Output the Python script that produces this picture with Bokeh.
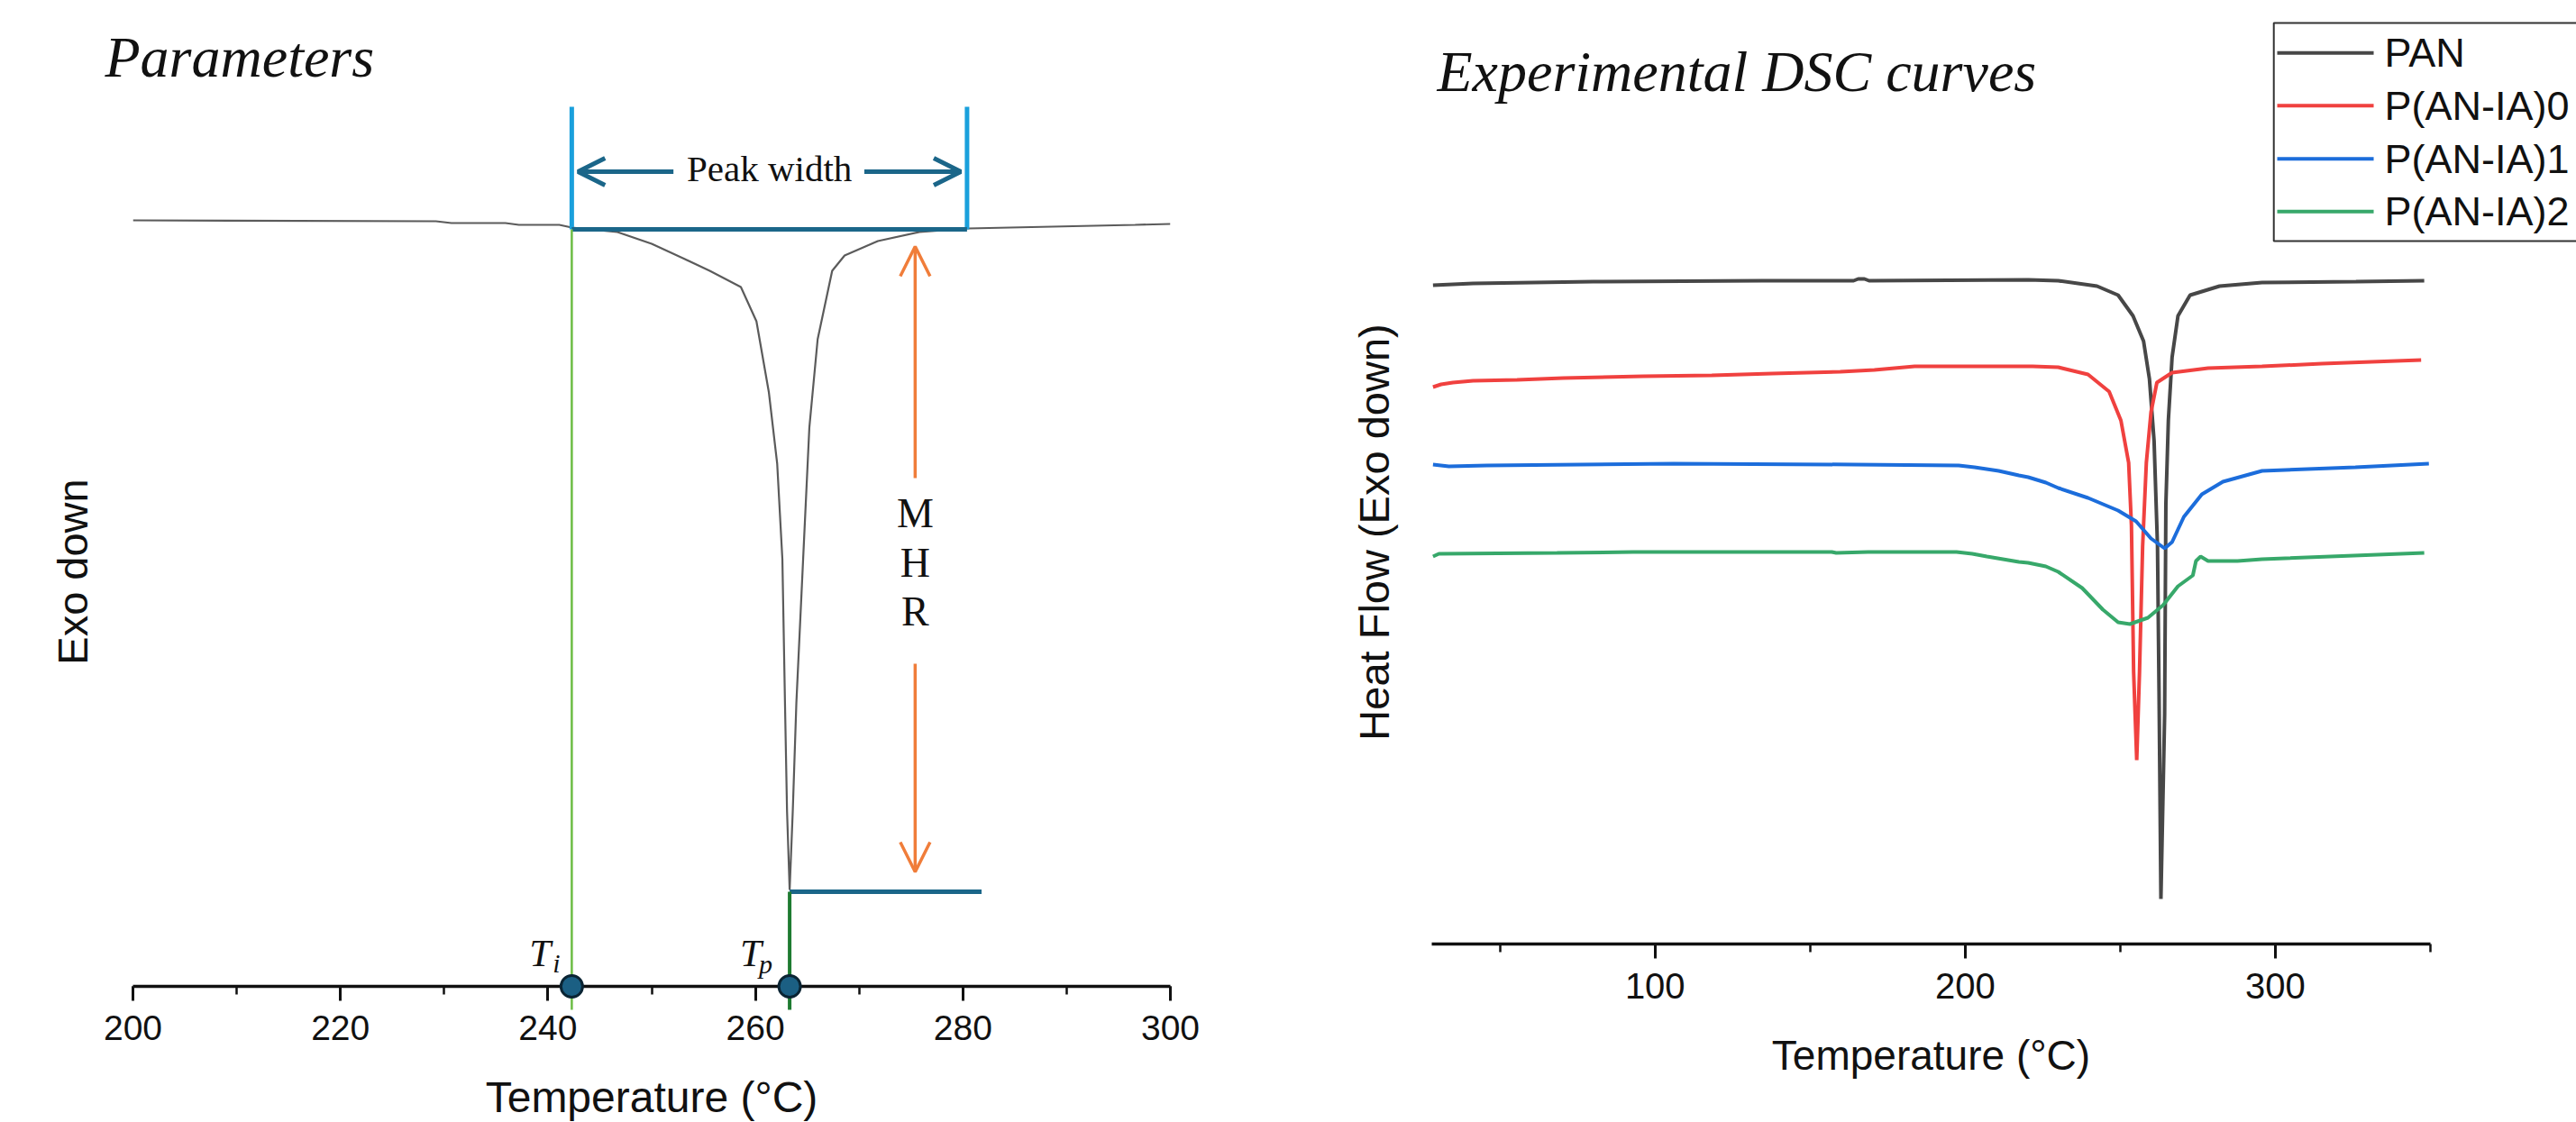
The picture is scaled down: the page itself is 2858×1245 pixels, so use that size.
import math
from bokeh.plotting import figure
from bokeh.layouts import row
from bokeh.models import Range1d, SingleIntervalTicker, Label, Arrow, OpenHead
from bokeh.core.properties import value
from bokeh.embed import file_html
from bokeh.resources import INLINE

SANS = "Liberation Sans"
SERIF = "Liberation Serif"
INK = "#111111"

# ---------------- data: schematic DSC peak (left panel) ----------------
schem_T = [200.0, 229.2, 230.7, 235.9, 237.2, 241.1, 242.3, 246.7, 250.0, 253.2,
           255.6, 258.6, 260.1, 261.3, 262.1, 262.6, 262.85, 263.05, 263.3, 263.6,
           263.95, 264.6, 265.2, 266.0, 267.4, 268.6, 271.8, 275.8, 280.5, 288.6,
           296.6, 300.0]
schem_hf = [8.50, 8.49, 8.47, 8.47, 8.45, 8.45, 8.42, 8.37, 8.24, 8.07,
            7.94, 7.76, 7.38, 6.59, 5.80, 4.74, 3.15, 1.94, 1.07, 1.94,
            3.15, 4.74, 6.20, 7.18, 7.94, 8.11, 8.27, 8.37, 8.41, 8.43,
            8.45, 8.46]

T_i = 242.3          # initiation temperature
T_p = 263.3          # peak temperature
T_end = 280.4        # end of peak width
hf_base = 8.40       # baseline level used for the peak width
hf_peak = 1.05       # level of the peak minimum (MHR reference)
hf_bracket_top = 9.76
hf_width_arrow = 9.04
T_mhr = 275.4
hf_mhr_up = (5.64, 8.21)
hf_mhr_down = (3.58, 1.27)
T_mhr_line_end = 281.8

# ---------------- data: experimental DSC curves (right panel) ----------------
pan_T = [28.4, 41.3, 80.1, 134.5, 164.0, 165.5, 167.5, 169.0, 220.3, 230.0,
         242.5, 249.3, 254.1, 257.5, 259.4, 260.9, 262.0, 262.5, 263.1, 264.3,
         264.7, 265.5, 266.7, 268.6, 272.5, 282.0, 295.7, 326.0, 348.0]
pan_hf = [7.31, 7.33, 7.35, 7.36, 7.36, 7.38, 7.38, 7.36, 7.37, 7.36,
          7.30, 7.20, 6.97, 6.69, 6.27, 5.58, 4.41, 2.78, 0.50, 2.55,
          4.88, 5.81, 6.51, 6.97, 7.20, 7.30, 7.34, 7.35, 7.36]

ia0_T = [28.4, 31.0, 34.8, 41.3, 55.5, 70.4, 96.2, 118.3, 137.7, 159.7,
         170.7, 177.2, 183.7, 221.7, 230.0, 239.6, 246.4, 250.2, 252.7, 253.6,
         254.3, 255.3, 256.2, 257.2, 258.4, 259.9, 261.8, 266.7, 278.3, 295.7,
         315.0, 347.0]
ia0_hf = [6.18, 6.21, 6.23, 6.25, 6.26, 6.28, 6.30, 6.31, 6.33, 6.35,
          6.37, 6.39, 6.41, 6.41, 6.40, 6.32, 6.13, 5.81, 5.34, 4.64,
          3.02, 2.04, 3.02, 4.41, 5.34, 5.90, 6.23, 6.34, 6.39, 6.41,
          6.44, 6.48]

ia1_T = [28.4, 33.5, 45.8, 106.0, 164.2, 197.9, 203.0, 210.8, 217.3, 220.3,
         226.0, 230.0, 239.6, 249.3, 255.1, 259.9, 264.3, 266.7, 270.5, 276.3,
         283.1, 295.7, 325.8, 349.5]
ia1_hf = [5.32, 5.30, 5.31, 5.33, 5.32, 5.31, 5.29, 5.25, 5.20, 5.18,
          5.12, 5.06, 4.95, 4.81, 4.69, 4.50, 4.39, 4.46, 4.74, 4.99,
          5.13, 5.25, 5.29, 5.33]

ia2_T = [28.4, 30.3, 68.4, 93.0, 157.0, 158.4, 168.7, 197.2, 202.3, 207.0,
         217.3, 220.3, 226.0, 230.0, 237.7, 244.4, 249.3, 253.1, 258.9, 263.8,
         268.6, 273.4, 274.4, 275.9, 278.3, 287.8, 295.7, 348.0]
ia2_hf = [4.30, 4.33, 4.34, 4.35, 4.35, 4.34, 4.35, 4.35, 4.33, 4.30,
          4.24, 4.23, 4.19, 4.13, 3.95, 3.71, 3.57, 3.55, 3.62, 3.76,
          3.97, 4.09, 4.25, 4.30, 4.25, 4.25, 4.27, 4.34]

series_names = ["PAN", "P(AN-IA)0", "P(AN-IA)1", "P(AN-IA)2"]
series_colors = ["#474747", "#f0413f", "#1c6ddb", "#37a86a"]
x_ticks_left = 20
x_ticks_right = 100
x_title = "Temperature (°C)"


def style_xaxis(ax, interval, tick_px, standoff):
    ax.ticker = SingleIntervalTicker(interval=interval, num_minor_ticks=2)
    ax.axis_line_width = 3.5
    ax.axis_line_color = INK
    ax.major_tick_out = 16
    ax.major_tick_in = 0
    ax.minor_tick_out = 9
    ax.minor_tick_in = 0
    ax.major_tick_line_width = 3
    ax.minor_tick_line_width = 2.5
    ax.major_tick_line_color = INK
    ax.minor_tick_line_color = INK
    ax.major_label_text_font = SANS
    ax.major_label_text_font_size = tick_px
    ax.major_label_text_color = INK
    ax.major_label_standoff = standoff


def base_fig(width, height, xr, yr, left, right):
    p = figure(width=width, height=height, x_range=Range1d(*xr), y_range=Range1d(*yr),
               output_backend="svg", toolbar_location=None,
               min_border_left=left, min_border_right=right,
               min_border_top=20, min_border_bottom=151)
    p.grid.visible = False
    p.yaxis.visible = False
    p.outline_line_color = None
    p.background_fill_color = "white"
    p.border_fill_color = "white"
    return p


def free_text(p, x, y, txt, dx, dy, font, size, style="normal", angle=0.0,
              align="left", color=INK):
    # text anchored at the middle of its line box
    p.text(x=[x], y=[y], text=[txt], x_offset=dx, y_offset=dy, angle=angle,
           text_font=value(font), text_font_size=value(size),
           text_font_style=style, text_color=color, text_align=align,
           text_baseline="middle", level="overlay")


def label(p, x, y, txt, dx, dy, font, size, style="normal", align="center"):
    p.add_layout(Label(x=x, y=y, x_offset=dx, y_offset=dy, text=txt,
                       text_align=align, text_baseline="middle", text_font=font,
                       text_font_style=style, text_font_size=size, text_color=INK))


# ======================= left panel =======================
p1 = base_fig(1430, 1245, (200, 300), (0, 10.74), 147, 132)
style_xaxis(p1.xaxis[0], x_ticks_left, "39px", 16)

p1.line(schem_T, schem_hf, line_color="#5b5b5b", line_width=2.2)

# peak-width bracket
p1.segment(x0=[T_i, T_end], y0=[hf_base, hf_base], x1=[T_i, T_end],
           y1=[hf_bracket_top, hf_bracket_top], line_color="#1aa0dc", line_width=5,
           level="overlay")
p1.segment(x0=[T_i], y0=[hf_base], x1=[T_end], y1=[hf_base],
           line_color="#1b6689", line_width=5, level="overlay")
# MHR reference line at the peak minimum
p1.segment(x0=[T_p], y0=[hf_peak], x1=[T_mhr_line_end], y1=[hf_peak],
           line_color="#1b6689", line_width=5, level="overlay")
# temperature markers
p1.segment(x0=[T_i], y0=[hf_base], x1=[T_i], y1=[-0.26],
           line_color="#6dbd45", line_width=2.5, level="overlay")
p1.segment(x0=[T_p], y0=[hf_peak], x1=[T_p], y1=[-0.26],
           line_color="#1e7b31", line_width=4, level="overlay")
p1.scatter(x=[T_i, T_p], y=[0, 0], size=24, fill_color="#1b5f83",
           line_color="#0a2433", line_width=3, level="overlay")

width_mid = (T_i + T_end) / 2
teal = "#1b6689"
p1.add_layout(Arrow(end=OpenHead(size=30, line_color=teal, line_width=5),
                    x_start=252.1, y_start=hf_width_arrow, x_end=T_i + 0.6, y_end=hf_width_arrow,
                    line_color=teal, line_width=5))
p1.add_layout(Arrow(end=OpenHead(size=30, line_color=teal, line_width=5),
                    x_start=270.5, y_start=hf_width_arrow, x_end=T_end - 0.6, y_end=hf_width_arrow,
                    line_color=teal, line_width=5))
label(p1, width_mid, hf_width_arrow, "Peak width", 0, 4, SERIF, "41px")

orange = "#f07d3a"
p1.add_layout(Arrow(end=OpenHead(size=33, line_color=orange, line_width=3.5),
                    x_start=T_mhr, y_start=hf_mhr_up[0], x_end=T_mhr, y_end=hf_mhr_up[1],
                    line_color=orange, line_width=3.5))
p1.add_layout(Arrow(end=OpenHead(size=33, line_color=orange, line_width=3.5),
                    x_start=T_mhr, y_start=hf_mhr_down[0], x_end=T_mhr, y_end=hf_mhr_down[1],
                    line_color=orange, line_width=3.5))
for letter, yv in zip(["M", "H", "R"], [5.25, 4.705, 4.16]):
    label(p1, T_mhr, yv, letter, 0, 0, SERIF, "46px")

# T_i / T_p labels
for tx, sub, tdx, sdx, sdy in [(T_i, "i", -47, -21, 26), (T_p, "p", -55, -34, 25)]:
    label(p1, tx, 0, "T", tdx, 37, SERIF, "43px", style="italic", align="left")
    label(p1, tx, 0, sub, sdx, sdy, SERIF, "30px", style="italic", align="left")

free_text(p1, 200, 0, "Parameters", -31, -1031, SERIF, "64px", style="italic")
free_text(p1, 250, 0, x_title, 0, 123, SANS, "48px", align="center")
free_text(p1, 200, 0, "Exo down", -67, -460, SANS, "47px", angle=math.pi / 2,
          align="center")

# ======================= right panel =======================
p2 = base_fig(1428, 1198, (28, 350), (0, 10.27), 158, 162)
style_xaxis(p2.xaxis[0], x_ticks_right, "40px", 16)

series = [(pan_T, pan_hf), (ia0_T, ia0_hf), (ia1_T, ia1_hf), (ia2_T, ia2_hf)]
for (xs, ys), col in zip(series, series_colors):
    p2.line(xs, ys, line_color=col, line_width=4)

# legend box (top right, running off the right edge like the original)
leg_x0, leg_x1 = 299.5, 400.0
leg_y0, leg_y1 = 7.80, 10.22
leg_line = (300.6, 331.7)
leg_text_x = 335.2
leg_rows = [9.887, 9.303, 8.713, 8.127]
p2.quad(left=[leg_x0], right=[leg_x1], bottom=[leg_y0], top=[leg_y1],
        fill_color="white", line_color="#333333", line_width=2, level="overlay")
p2.segment(x0=[leg_line[0]] * 4, x1=[leg_line[1]] * 4, y0=leg_rows, y1=leg_rows,
           line_color=series_colors, line_width=4, level="overlay")
p2.text(x=[leg_text_x] * 4, y=leg_rows, text=series_names,
        text_font=value(SANS), text_font_size=value("45px"), text_color=INK,
        text_align="left", text_baseline="middle", level="overlay")

free_text(p2, 28, 0, "Experimental DSC curves", 6, -968, SERIF, "64px", style="italic")
free_text(p2, 189, 0, x_title, 0, 123, SANS, "46px", align="center")
free_text(p2, 28, 0, "Heat Flow (Exo down)", -64, -457, SANS, "47px", angle=math.pi / 2,
          align="center")

layout = row(p1, p2)
open("out.html", "w").write(file_html(layout, INLINE))
